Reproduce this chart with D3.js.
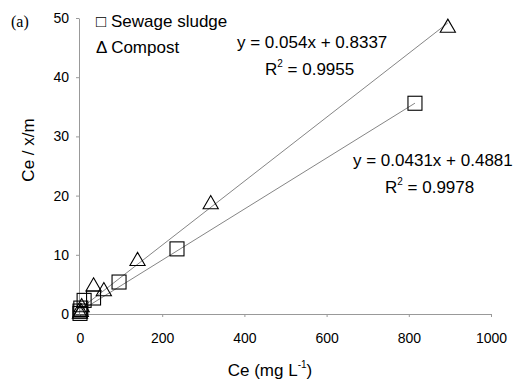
<!DOCTYPE html>
<html lang="en"><head>
<meta charset="utf-8">
<title>Ce / x/m vs Ce</title>
<script src="https://cdn.jsdelivr.net/npm/d3@7"></script>
<style>
body{margin:0;background:#fff;}
text{font-family:Arial,"Liberation Sans",sans-serif;}
</style>
</head>
<body>
<script>
var width = 518, height = 383;

// data
var sludgeX = [0, 0, 2, 10, 33, 95, 236, 815];
var sludgeY = [0.1, 0.5, 1.0, 2.3, 2.7, 5.4, 11.0, 35.6];
var compostX = [0, 2, 4, 33, 58, 140, 318, 895];
var compostY = [0.2, 0.5, 1.3, 4.8, 4.0, 9.1, 18.7, 48.5];
var sludgeFit = {slope: 0.0431, icpt: 0.4881};
var compostFit = {slope: 0.054, icpt: 0.8337};
var xTicks = [0, 200, 400, 600, 800, 1000];
var yTicks = [0, 10, 20, 30, 40, 50];

var svg = d3.select("body").append("svg").attr("width", width).attr("height", height);

var x = d3.scaleLinear().domain([0, 1000]).range([80, 491]);
var y = d3.scaleLinear().domain([0, 50]).range([314, 18]);

var gX = svg.append("g").attr("transform", "translate(0,314)")
  .call(d3.axisBottom(x).tickValues(xTicks).tickFormat(d3.format("d")).tickSize(3).tickSizeOuter(0).tickPadding(16));
var gY = svg.append("g").attr("transform", "translate(79,0)")
  .call(d3.axisLeft(y).tickValues(yTicks).tickSize(3).tickSizeOuter(0).tickPadding(7));
[gX, gY].forEach(function(g){
  g.select(".domain").attr("stroke", "#999");
  g.selectAll(".tick line").attr("stroke", "#999");
  g.selectAll(".tick text").attr("fill", "#000").style("font-size", "14px")
    .style("font-family", "Arial, 'Liberation Sans', sans-serif");
});

// trendlines
function fitLine(xs, fit) {
  var x0 = d3.min(xs), x1 = d3.max(xs);
  return [[x0, fit.icpt + fit.slope * x0], [x1, fit.icpt + fit.slope * x1]];
}
var line = d3.line().x(function(d){ return x(d[0]); }).y(function(d){ return y(d[1]); });
svg.append("path").attr("d", line(fitLine(sludgeX, sludgeFit))).attr("stroke", "#666").attr("stroke-width", 0.8).attr("fill", "none");
svg.append("path").attr("d", line(fitLine(compostX, compostFit))).attr("stroke", "#666").attr("stroke-width", 0.8).attr("fill", "none");

// markers
svg.selectAll("rect.s").data(d3.zip(sludgeX, sludgeY)).enter().append("rect")
  .attr("x", function(d){ return x(d[0]) - 7; })
  .attr("y", function(d){ return y(d[1]) - 7; })
  .attr("width", 14).attr("height", 14)
  .attr("fill", "none").attr("stroke", "#000").attr("stroke-width", 1.1);
var tri = d3.symbol().type(d3.symbolTriangle).size(100);
svg.selectAll("path.c").data(d3.zip(compostX, compostY)).enter().append("path")
  .attr("d", tri)
  .attr("transform", function(d){ return "translate(" + x(d[0]) + "," + (y(d[1]) + 1) + ")"; })
  .attr("fill", "none").attr("stroke", "#000").attr("stroke-width", 1.1);

// legend
svg.append("text").attr("x", 96).attr("y", 27).style("font-size", "17px").text("\u25A1 Sewage sludge");
svg.append("text").attr("x", 96).attr("y", 53).style("font-size", "17px").text("\u0394 Compost");

// equations
function eq(xp, yp, a, b, r2) {
  svg.append("text").attr("x", xp).attr("y", yp).style("font-size", "17px").text(a);
  var t = svg.append("text").attr("x", b).attr("y", yp + 27).style("font-size", "17px");
  t.append("tspan").text("R");
  t.append("tspan").attr("dy", -8).style("font-size", "10px").text("2");
  t.append("tspan").attr("dy", 8).text(" = " + r2);
}
eq(237, 48, "y = 0.054x + 0.8337", 265, "0.9955");
eq(353, 166, "y = 0.0431x + 0.4881", 385, "0.9978");

// labels
svg.append("text").attr("x", 11).attr("y", 27).style("font-family", "'Liberation Serif','Times New Roman',serif").style("font-size", "16px").text("(a)");
svg.append("text").attr("transform", "translate(34,150) rotate(-90)").attr("text-anchor", "middle").style("font-size", "17px").text("Ce / x/m");
var xl = svg.append("text").attr("x", 270).attr("y", 376).attr("text-anchor", "middle").style("font-size", "17px");
xl.append("tspan").text("Ce (mg L");
xl.append("tspan").attr("dy", -8).style("font-size", "10px").text("-1");
xl.append("tspan").attr("dy", 8).text(")");
</script>
</body>
</html>
